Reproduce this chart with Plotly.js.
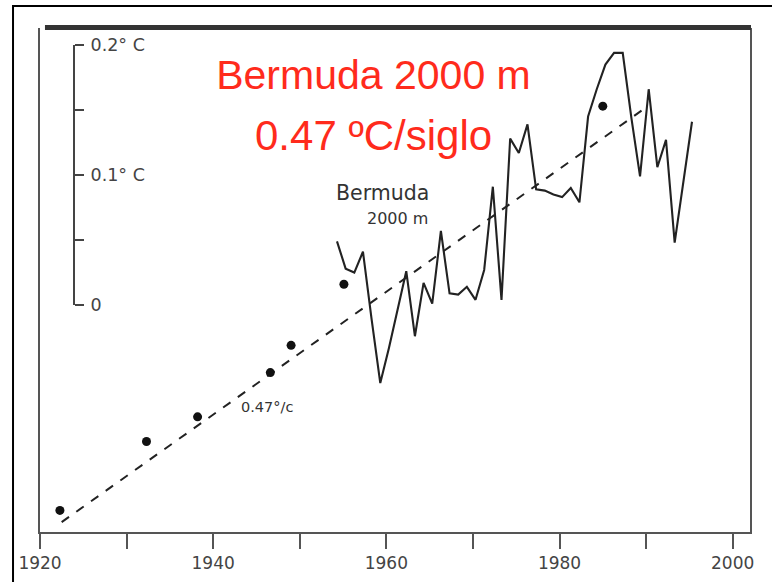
<!DOCTYPE html>
<html>
<head>
<meta charset="utf-8">
<script src="https://cdn.plot.ly/plotly-3.0.1.min.js"></script>
<style>
  html, body { margin: 0; padding: 0; background: #fff; }
  #chart { width: 772px; height: 582px; }
</style>
</head>
<body>
<div id="chart"></div>
<script>
// Bermuda, 2000 m depth: yearly temperature anomaly (°C), mid-year sample times
const bermudaYears = [
  1954.3, 1955.3, 1956.3, 1957.3, 1958.3, 1959.3, 1960.3, 1961.3, 1962.3, 1963.3,
  1964.3, 1965.3, 1966.3, 1967.3, 1968.3, 1969.3, 1970.3, 1971.3, 1972.3, 1973.3,
  1974.3, 1975.3, 1976.3, 1977.3, 1978.3, 1979.3, 1980.3, 1981.3, 1982.3, 1983.3,
  1984.3, 1985.3, 1986.3, 1987.3, 1988.3, 1989.3, 1990.3, 1991.3, 1992.3, 1993.3,
  1994.3, 1995.3
];
const bermudaTemp = [
  0.049, 0.028, 0.025, 0.041, -0.011, -0.060, -0.033, -0.004, 0.026, -0.024,
  0.017, 0.001, 0.057, 0.009, 0.008, 0.014, 0.004, 0.027, 0.091, 0.004,
  0.128, 0.117, 0.139, 0.089, 0.088, 0.085, 0.083, 0.090, 0.079, 0.145,
  0.166, 0.185, 0.194, 0.194, 0.144, 0.099, 0.166, 0.106, 0.127, 0.048,
  0.096, 0.141
];

// Earlier occupations shown as single points
const surveyYears = [1922.3, 1932.3, 1938.2, 1946.6, 1949.0, 1955.1, 1985.0];
const surveyTemp  = [-0.158, -0.105, -0.086, -0.052, -0.031, 0.016, 0.153];

// Linear trend, 0.47 °C per century
const trendYears = [1922.5, 1990.0];
const trendTemp  = [-0.167, 0.152];

// Axis labels
const yearTicks = [1920, 1940, 1960, 1980, 2000];
const scaleTicks = [0, 0.05, 0.1, 0.15, 0.2];
const scaleLabels = ['0', '', '0.1° C', '', '0.2° C'];

const INK = '#222';
const AXIS = '#555';
const RED = '#ff2b1c';
const SANS = 'DejaVu Sans, sans-serif';
const ARIAL = 'Liberation Sans, Arial, sans-serif';

const traces = [
  {
    x: bermudaYears, y: bermudaTemp, type: 'scatter', mode: 'lines',
    line: { color: INK, width: 2.1 }, hoverinfo: 'skip'
  },
  {
    x: trendYears, y: trendTemp, type: 'scatter', mode: 'lines',
    line: { color: INK, width: 2, dash: 'dash' }, hoverinfo: 'skip'
  },
  {
    x: surveyYears, y: surveyTemp, type: 'scatter', mode: 'markers',
    marker: { color: '#111', size: 9 }, hoverinfo: 'skip'
  },
  // empty trace that puts the scale-bar axis (y2) on the page
  {
    x: [], y: [], type: 'scatter', mode: 'markers',
    xaxis: 'x', yaxis: 'y2', hoverinfo: 'skip'
  }
];

const layout = {
  width: 772, height: 582,
  margin: { l: 40, r: 22, t: 28, b: 50 },
  paper_bgcolor: '#fff', plot_bgcolor: 'rgba(0,0,0,0)',
  showlegend: false,
  title: {
    text: 'Bermuda 2000 m',
    font: { family: ARIAL, size: 41, color: RED },
    xref: 'paper', x: 0.4697, xanchor: 'center',
    yref: 'container', y: 0.8711, yanchor: 'middle'
  },
  xaxis: {
    range: [1920, 2002],
    tickvals: yearTicks,
    ticks: 'outside', ticklen: 15, tickwidth: 2, tickcolor: AXIS,
    minor: { dtick: 10, tick0: 1920, ticks: 'outside', ticklen: 15, tickwidth: 2, tickcolor: AXIS },
    showline: true, linecolor: AXIS, linewidth: 2,
    showgrid: false, zeroline: false,
    tickfont: { family: SANS, size: 17, color: '#444' }
  },
  yaxis: {
    range: [-0.1746, 0.2131],
    showline: true, mirror: true, linecolor: AXIS, linewidth: 2,
    ticks: '', showticklabels: false, showgrid: false, zeroline: false
  },
  // short temperature scale bar inside the frame
  yaxis2: {
    anchor: 'free', side: 'right', position: 0.0479,
    domain: [0.4504, 0.9663], range: [0, 0.2],
    tickvals: scaleTicks, ticktext: scaleLabels,
    ticks: 'outside', ticklen: 9, tickwidth: 2, tickcolor: '#444',
    showline: true, linecolor: '#444', linewidth: 2,
    showgrid: false, zeroline: false, ticklabelstandoff: 3,
    tickfont: { family: SANS, size: 17.5, color: '#444' }
  },
  shapes: [
    { type: 'line', xref: 'paper', yref: 'paper', x0: 0.007, x1: 1.0014, y0: 1.001, y1: 1.001,
      line: { color: '#333', width: 5 } },
    { type: 'rect', xref: 'paper', yref: 'paper', x0: -0.038, x1: 1.08, y0: -0.14, y1: 1.0437,
      line: { color: '#000', width: 2 }, fillcolor: 'rgba(0,0,0,0)' }
  ],
  annotations: [
    { text: '0.47 ºC/siglo', xref: 'paper', yref: 'paper', x: 0.47, y: 0.786,
      xanchor: 'center', yanchor: 'middle', showarrow: false,
      font: { family: ARIAL, size: 42, color: RED } },
    { text: 'Bermuda', xref: 'x', yref: 'y', x: 1959.5, y: 0.086,
      xanchor: 'center', yanchor: 'middle', showarrow: false,
      font: { family: SANS, size: 20.5, color: '#333' } },
    { text: '2000 m', xref: 'x', yref: 'y', x: 1965.0, y: 0.0667,
      xanchor: 'right', yanchor: 'middle', showarrow: false,
      font: { family: SANS, size: 16, color: '#333' } },
    { text: '0.47°/c', xref: 'x', yref: 'y', x: 1946.2, y: -0.0788,
      xanchor: 'center', yanchor: 'middle', showarrow: false,
      font: { family: SANS, size: 14.5, color: '#333' } }
  ]
};

Plotly.newPlot('chart', traces, layout, { staticPlot: true, displayModeBar: false });
</script>
</body>
</html>
